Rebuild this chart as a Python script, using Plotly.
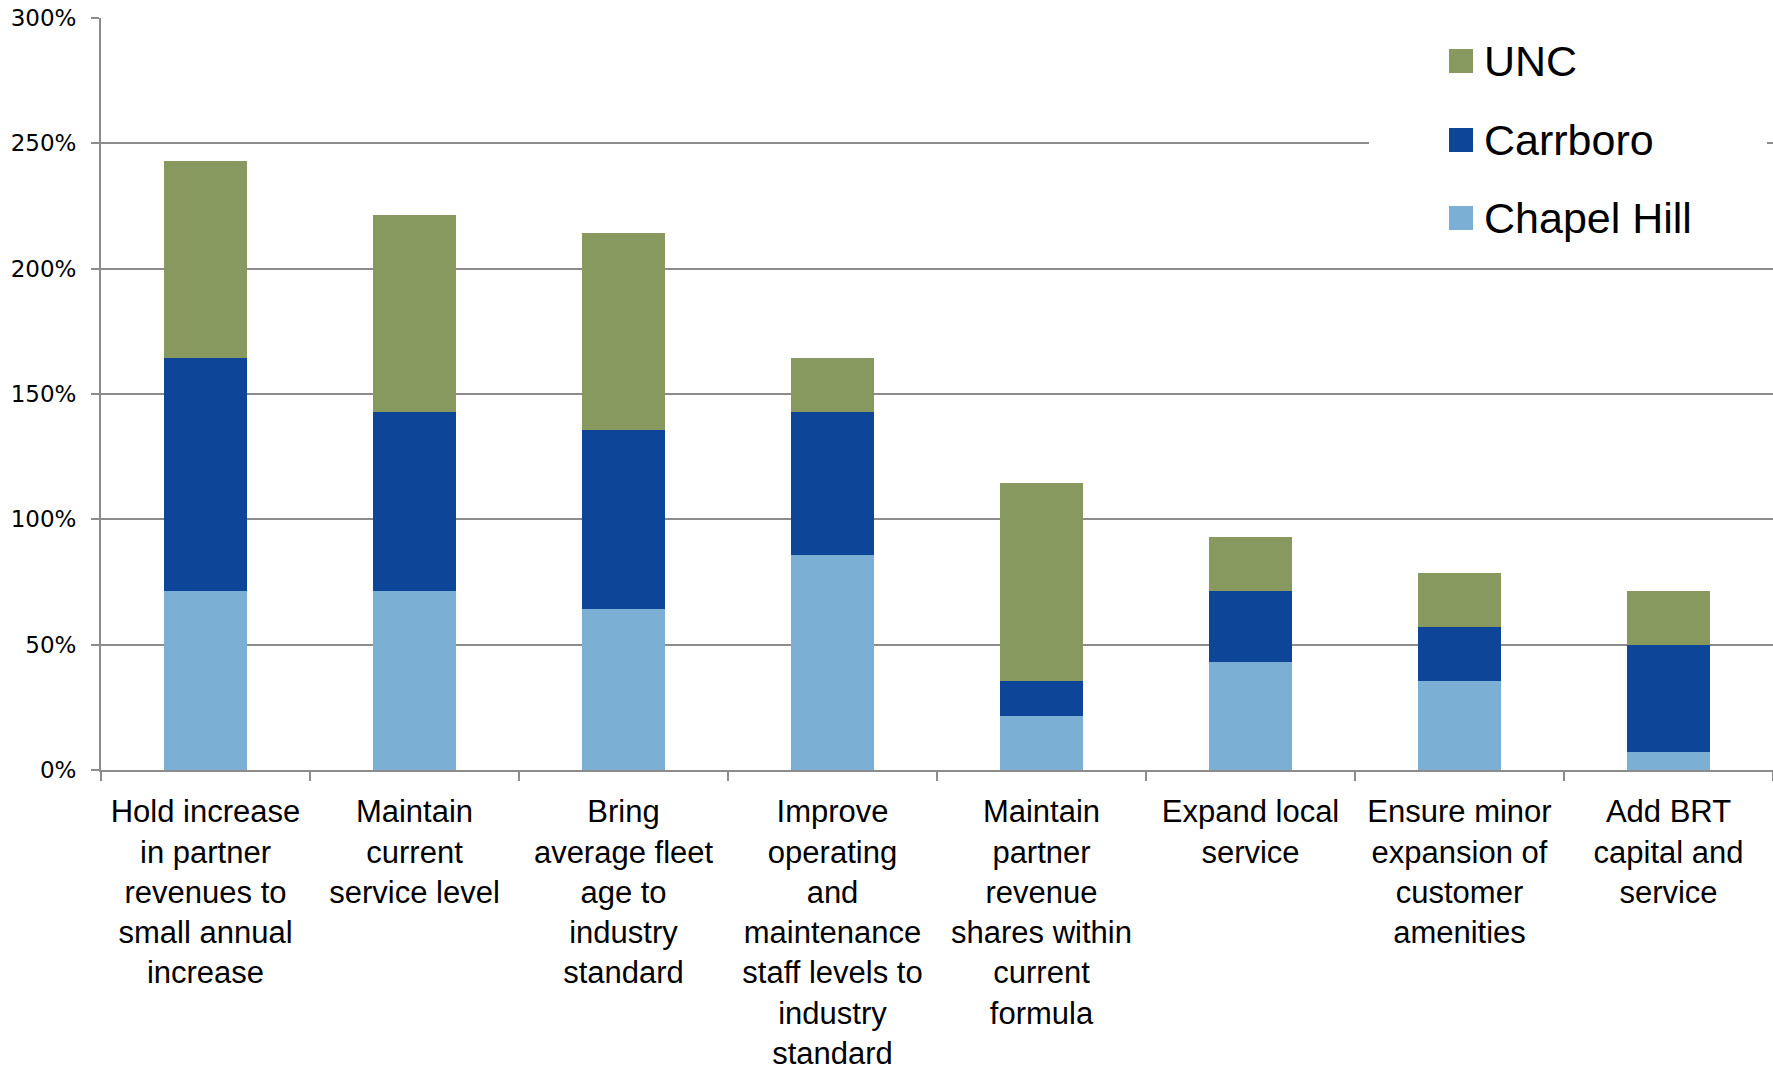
import plotly.graph_objects as go

# Strategy options (x-axis categories)
categories = [
    "Hold increase<br>in partner<br>revenues to<br>small annual<br>increase",
    "Maintain<br>current<br>service level",
    "Bring<br>average fleet<br>age to<br>industry<br>standard",
    "Improve<br>operating<br>and<br>maintenance<br>staff levels to<br>industry<br>standard",
    "Maintain<br>partner<br>revenue<br>shares within<br>current<br>formula",
    "Expand local<br>service",
    "Ensure minor<br>expansion of<br>customer<br>amenities",
    "Add BRT<br>capital and<br>service",
]

# Stacked shares (percent) by partner
chapel_hill = [71.4, 71.4, 64.3, 85.7, 21.4, 42.9, 35.7, 7.1]
carrboro = [92.9, 71.4, 71.4, 57.1, 14.3, 28.6, 21.4, 42.9]
unc = [78.6, 78.6, 78.6, 21.4, 78.6, 21.4, 21.4, 21.4]

series_names = ["Chapel Hill", "Carrboro", "UNC"]
series_values = [chapel_hill, carrboro, unc]
series_colors = ["#7BAFD4", "#0D4599", "#87995E"]

y_ticks = [0, 50, 100, 150, 200, 250, 300]
y_tick_labels = ["0%", "50%", "100%", "150%", "200%", "250%", "300%"]

W, H = 1773, 1070
L, R, T, B = 101, 0, 18, 300
plot_w = W - L - R
plot_h = H - T - B

fig = go.Figure()
for name, vals, col in zip(series_names, series_values, series_colors):
    fig.add_trace(go.Bar(
        x=categories, y=vals, name=name,
        marker=dict(color=col, line=dict(width=0)),
        showlegend=False,
    ))


def px_to_paper(x, y):
    return (x - L) / plot_w, (H - B - y) / plot_h


shapes = []
annotations = []

# White legend panel sitting over the gridlines
x0, y0 = px_to_paper(1369, 30)
x1, y1 = px_to_paper(1767, 255)
shapes.append(dict(type="rect", xref="paper", yref="paper",
                   x0=x0, x1=x1, y0=y1, y1=y0,
                   fillcolor="white", line=dict(width=0), layer="above"))

# Legend entries, top to bottom: UNC, Carrboro, Chapel Hill
legend_rows = [61, 140, 218]
for row_y, name, col in zip(legend_rows, series_names[::-1], series_colors[::-1]):
    sx0, sy0 = px_to_paper(1449, row_y - 12)
    sx1, sy1 = px_to_paper(1473, row_y + 12)
    shapes.append(dict(type="rect", xref="paper", yref="paper",
                       x0=sx0, x1=sx1, y0=sy1, y1=sy0,
                       fillcolor=col, line=dict(width=0), layer="above"))
    tx, ty = px_to_paper(1482, row_y)
    annotations.append(dict(xref="paper", yref="paper", x=tx, y=ty,
                            text=name, showarrow=False,
                            xanchor="left", yanchor="middle",
                            font=dict(family="Liberation Sans, Arial, sans-serif",
                                      size=43, color="#000000")))

grid_col = "#8C8C8C"

fig.update_layout(
    width=W, height=H,
    margin=dict(l=L, r=R, t=T, b=B, pad=0, autoexpand=False),
    paper_bgcolor="white", plot_bgcolor="white",
    barmode="stack", bargap=0.6,
    shapes=shapes, annotations=annotations,
    xaxis=dict(
        type="category", tickson="boundaries", automargin=False,
        ticks="outside", ticklen=9, tickwidth=2, tickcolor=grid_col,
        showline=True, linecolor=grid_col, linewidth=2,
        showgrid=False,
        tickfont=dict(family="Liberation Sans, Arial, sans-serif", size=31, color="#000000"),
        ticklabelstandoff=13,
    ),
    yaxis=dict(
        range=[0, 300], tickmode="array", tickvals=y_ticks, ticktext=y_tick_labels,
        automargin=False,
        ticks="outside", ticklen=8, tickwidth=2, tickcolor=grid_col,
        showline=True, linecolor=grid_col, linewidth=2,
        showgrid=True, gridcolor=grid_col, gridwidth=2,
        zeroline=False,
        tickfont=dict(family="DejaVu Sans, sans-serif", size=23, color="#000000"),
        ticklabelstandoff=10,
    ),
)

fig.write_html("out.html")
